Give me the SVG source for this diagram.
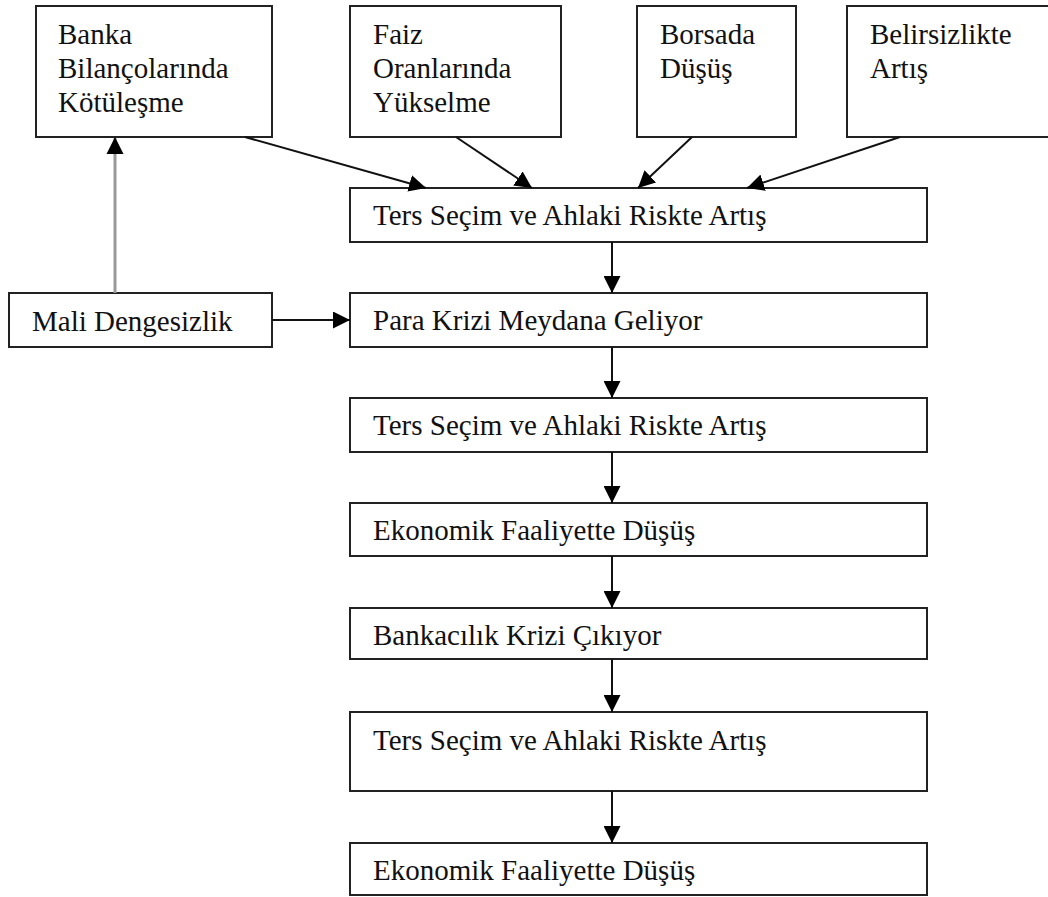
<svg xmlns="http://www.w3.org/2000/svg" width="1048" height="897" viewBox="0 0 1048 897">
<style>
.box{fill:#fff;stroke:#222;stroke-width:2}
.t{font-family:"Liberation Serif","Times New Roman",serif;font-size:29px;fill:#111}
.c{stroke:#111;stroke-width:2;fill:none}
.g{stroke:#999;stroke-width:3;fill:none}
</style>
<defs>
<marker id="ah" markerUnits="userSpaceOnUse" markerWidth="17" markerHeight="17" refX="17" refY="8.5" orient="auto">
<path d="M0,0 L17,8.5 L0,17 Z" fill="#000"/>
</marker>
</defs>
<rect width="1048" height="897" fill="#fff"/>
<g id="banka"><rect class="box" x="36" y="6" width="236" height="131"/>
<text class="t" x="58" y="44">Banka</text><text class="t" x="58" y="78">Bilançolarında</text><text class="t" x="58" y="112">Kötüleşme</text></g>
<g id="faiz"><rect class="box" x="350" y="6" width="211" height="131"/>
<text class="t" x="373" y="44">Faiz</text><text class="t" x="373" y="78">Oranlarında</text><text class="t" x="373" y="112">Yükselme</text></g>
<g id="borsa"><rect class="box" x="637" y="6" width="159" height="131"/>
<text class="t" x="660" y="44">Borsada</text><text class="t" x="660" y="78">Düşüş</text></g>
<g id="belirsiz"><rect class="box" x="847" y="6" width="220" height="131"/>
<text class="t" x="870" y="44">Belirsizlikte</text><text class="t" x="870" y="78">Artış</text></g>
<g id="mali"><rect class="box" x="9" y="293" width="263" height="54"/>
<text class="t" x="32" y="331">Mali Dengesizlik</text></g>
<g id="n1"><rect class="box" x="350" y="188" width="577" height="54"/><text class="t" x="373" y="225">Ters Seçim ve Ahlaki Riskte Artış</text></g>
<g id="n2"><rect class="box" x="350" y="293" width="577" height="54"/><text class="t" x="373" y="330">Para Krizi Meydana Geliyor</text></g>
<g id="n3"><rect class="box" x="350" y="398" width="577" height="54"/><text class="t" x="373" y="435">Ters Seçim ve Ahlaki Riskte Artış</text></g>
<g id="n4"><rect class="box" x="350" y="503" width="577" height="53"/><text class="t" x="373" y="540">Ekonomik Faaliyette Düşüş</text></g>
<g id="n5"><rect class="box" x="350" y="608" width="577" height="51"/><text class="t" x="373" y="645">Bankacılık Krizi Çıkıyor</text></g>
<g id="n6"><rect class="box" x="350" y="712" width="577" height="79"/><text class="t" x="373" y="750">Ters Seçim ve Ahlaki Riskte Artış</text></g>
<g id="n7"><rect class="box" x="350" y="843" width="577" height="52"/><text class="t" x="373" y="880">Ekonomik Faaliyette Düşüş</text></g>
<g id="connectors">
<line class="c" x1="245" y1="137" x2="426" y2="188" marker-end="url(#ah)"/>
<line class="c" x1="456" y1="137" x2="532" y2="188" marker-end="url(#ah)"/>
<line class="c" x1="692" y1="137" x2="638" y2="188" marker-end="url(#ah)"/>
<line class="c" x1="900" y1="137" x2="747" y2="188" marker-end="url(#ah)"/>
<line class="g" x1="115" y1="293" x2="115" y2="138"/>
<path d="M115,137 L123.5,154 L106.5,154 Z" fill="#000"/>
<line class="c" x1="272" y1="320" x2="350" y2="320" marker-end="url(#ah)"/>
<line class="c" x1="612" y1="242" x2="612" y2="293" marker-end="url(#ah)"/>
<line class="c" x1="612" y1="347" x2="612" y2="398" marker-end="url(#ah)"/>
<line class="c" x1="612" y1="452" x2="612" y2="503" marker-end="url(#ah)"/>
<line class="c" x1="612" y1="556" x2="612" y2="608" marker-end="url(#ah)"/>
<line class="c" x1="612" y1="659" x2="612" y2="712" marker-end="url(#ah)"/>
<line class="c" x1="612" y1="791" x2="612" y2="843" marker-end="url(#ah)"/>
</g>
</svg>
